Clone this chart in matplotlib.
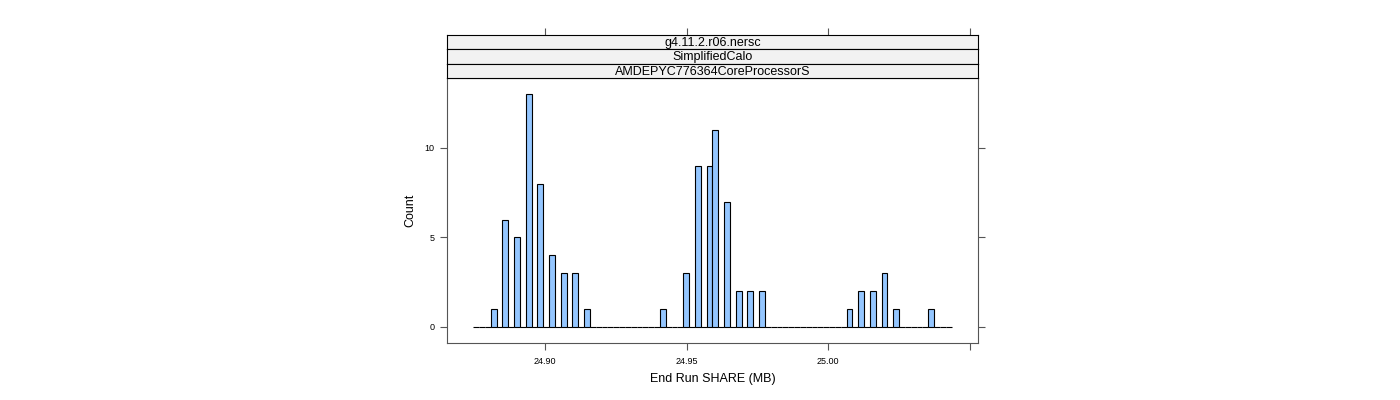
import numpy as np
import matplotlib
matplotlib.use('Agg')
import matplotlib.pyplot as plt

plt.rcParams['font.family'] = ['Liberation Sans', 'DejaVu Sans']

# bin centres (MB) with their counts
share_mb = [24.8818, 24.8860, 24.8901, 24.8942, 24.8983, 24.9025, 24.9066, 24.9107,
            24.9148, 24.9416, 24.9499, 24.9540, 24.9581, 24.9602, 24.9643, 24.9684,
            24.9725, 24.9767, 25.0076, 25.0117, 25.0158, 25.0199, 25.0241, 25.0364]
counts = [1, 6, 5, 13, 8, 4, 3, 3,
          1, 1, 3, 9, 9, 11, 7, 2,
          2, 2, 1, 2, 2, 3, 1, 1]

bin_lo = 24.87463
bin_hi = 25.04364
n_bins = 82

strips = ['g4.11.2.r06.nersc', 'SimplifiedCalo', 'AMDEPYC776364CoreProcessorS']
xticks = [24.90, 24.95, 25.00, 25.05]
xticklabels = ['24.90', '24.95', '25.00', '']
yticks = [0, 5, 10]

xlim = (24.86537, 25.05300)
ylim = (-0.894, 13.91)

W, H = 1400, 400
fig = plt.figure(figsize=(W / 100, H / 100), dpi=100)

def px_box(l, t, r, b):
    return [l / W, 1 - b / H, (r - l) / W, (b - t) / H]

frame = '#555555'

ax = fig.add_axes(px_box(447, 78, 978, 343))
values = np.repeat(share_mb, counts)
edges = np.linspace(bin_lo, bin_hi, n_bins + 1)
ax.hist(values, bins=edges, color='#94C6FF', edgecolor='black', linewidth=0.8)
ax.set_xlim(*xlim)
ax.set_ylim(*ylim)
ax.set_xticks(xticks)
ax.set_xticklabels(xticklabels)
ax.set_yticks(yticks)
ax.tick_params(axis='both', direction='out', length=5, width=0.8, color=frame,
               labelsize=6.5, pad=5)
ax.tick_params(axis='y', right=True, pad=4)
for s in ax.spines.values():
    s.set_color(frame)
    s.set_linewidth(0.8)
ax.set_xlabel('End Run SHARE (MB)', fontsize=9, labelpad=5)
ax.set_ylabel('Count', fontsize=9, labelpad=6)

strip_h = (78 - 35) / 3.0
for i, name in enumerate(strips):
    top = 35 + i * strip_h
    sax = fig.add_axes(px_box(447, top, 978, top + strip_h))
    sax.set_facecolor('#F2F2F2')
    sax.set_xlim(*xlim)
    sax.set_ylim(0, 1)
    sax.set_yticks([])
    if i == 0:
        sax.xaxis.tick_top()
        sax.set_xticks(xticks)
        sax.tick_params(axis='x', direction='out', length=5, width=0.8, color=frame,
                        labeltop=False, labelbottom=False)
    else:
        sax.set_xticks([])
    for s in sax.spines.values():
        s.set_color('black')
        s.set_linewidth(0.8)
    sax.text(0.5, 0.45, name, transform=sax.transAxes, ha='center', va='center',
             fontsize=9)

fig.savefig('out.png', dpi=100)
